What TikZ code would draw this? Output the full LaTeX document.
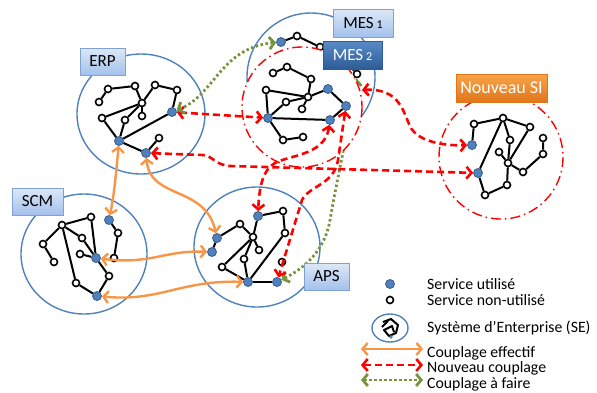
\documentclass[tikz,border=0pt]{standalone}
\usepackage{fontspec}
\setmainfont{Carlito}
\usetikzlibrary{arrows.meta}
\definecolor{blueC}{HTML}{4F81BD}
\definecolor{usedF}{HTML}{4F81BD}
\definecolor{usedB}{HTML}{385D8A}
\definecolor{orangeC}{HTML}{F79646}
\definecolor{redC}{HTML}{FF0000}
\definecolor{greenC}{HTML}{77933C}
\definecolor{lbTop}{HTML}{DDE8F7}
\definecolor{lbBot}{HTML}{A3C1EC}
\definecolor{lbDraw}{HTML}{7FA2D0}
\definecolor{dbTop}{HTML}{5A8BC8}
\definecolor{dbBot}{HTML}{2E5C96}
\definecolor{orTop}{HTML}{F9A447}
\definecolor{orBot}{HTML}{E0761A}
\begin{document}
\begin{tikzpicture}[x=1pt,y=-1pt,
  >={Straight Barb[length=5pt,width=12pt]},
  svc/.style={circle,draw=black,line width=1.6pt,fill=white,inner sep=0pt,minimum size=7pt},
  used/.style={circle,draw=usedB,line width=0.8pt,fill=usedF,inner sep=0pt,minimum size=9pt},
  ed/.style={line width=2pt,draw=black},
  syscirc/.style={draw=blueC,line width=1.4pt},
  newcirc/.style={draw=redC,line width=1.4pt,dash pattern=on 10pt off 4pt on 1.5pt off 4pt},
  eff/.style={draw=orangeC,line width=2.4pt},
  nouv/.style={draw=redC,line width=2.6pt,dash pattern=on 7pt off 4pt},
  faire/.style={draw=greenC,line width=2.8pt,dash pattern=on 2.5pt off 2.5pt},
  lbox/.style={draw=lbDraw,line width=0.8pt,top color=lbTop,bottom color=lbBot,font=\fontsize{17}{19}\selectfont,inner sep=0pt},
  dbox/.style={draw=dbBot,line width=0.8pt,top color=dbTop,bottom color=dbBot,text=white,font=\fontsize{17}{19}\selectfont,inner sep=0pt},
  obox/.style={draw=orBot,line width=0.8pt,top color=orTop,bottom color=orBot,text=white,font=\fontsize{18}{20}\selectfont,inner sep=0pt},
  legtxt/.style={anchor=west,font=\fontsize{15.8}{17}\selectfont,inner sep=0pt}
]
\useasboundingbox (0,0) rectangle (597,392);

% ---------- ERP ----------
\draw[syscirc] (141,114) ellipse[x radius=64,y radius=60];
\node[svc] (a1) at (99,102) {};
\node[svc] (a2) at (108,89) {};
\node[svc] (a3) at (135,86) {};
\node[svc] (a4) at (155,85) {};
\node[svc] (a5) at (177,90) {};
\node[svc] (a6) at (142,103) {};
\node[svc] (a7) at (102,118) {};
\node[svc] (a8) at (125,120) {};
\node[svc] (a9) at (142,116) {};
\node[svc] (a10) at (159,138) {};
\node[used] (b1) at (172,112) {};
\node[used] (b2) at (119,141) {};
\node[used] (b3) at (146,153) {};
\draw[ed] (a1)--(a2)--(a3)--(a6)--(a4)--(a5)--(b1);
\draw[ed] (a7)--(a6); \draw[ed] (a7)--(b2); \draw[ed] (a8)--(a6); \draw[ed] (a8)--(b2);
\draw[ed] (a6)--(a9); \draw[ed] (b2)--(b1); \draw[ed] (b2)--(b3)--(a10);

% ---------- SCM ----------
\draw[syscirc] (84,254) ellipse[x radius=63,y radius=60];
\node[svc] (s1) at (62,225) {};
\node[svc] (s2) at (91,217) {};
\node[svc] (s3) at (43,244) {};
\node[svc] (s4) at (54,262) {};
\node[svc] (s5) at (82,238) {};
\node[svc] (s6) at (80,254) {};
\node[svc] (s7) at (118,233) {};
\node[svc] (s8) at (114,258) {};
\node[svc] (s9) at (109,276) {};
\node[svc] (s10) at (76,283) {};
\node[used] (h1) at (109,220) {};
\node[used] (h2) at (96,258) {};
\node[used] (h3) at (97,296) {};
\draw[ed] (s4)--(s3)--(s1)--(s2)--(h2);
\draw[ed] (s1)--(s5)--(h2); \draw[ed] (s6)--(h2);
\draw[ed] (h1)--(s7)--(s8);
\draw[ed] (s1)--(s10)--(h3)--(s9)--(h2);

% ---------- APS ----------
\draw[syscirc] (257,247) ellipse[x radius=63,y radius=60];
\node[used] (k1) at (258,216) {};
\node[svc] (p1) at (283,211) {};
\node[svc] (p2) at (240,224) {};
\node[svc] (p3) at (253,237) {};
\node[svc] (p4) at (285,233) {};
\node[used] (k2) at (217,238) {};
\node[used] (k3) at (212,252) {};
\node[svc] (p5) at (259,250) {};
\node[svc] (p6) at (244,259) {};
\node[svc] (p7) at (222,267) {};
\node[svc] (p8) at (282,262) {};
\node[used] (k4) at (248,282) {};
\node[used] (k5) at (277,282) {};
\draw[ed] (k1)--(p1)--(p4)--(k4);
\draw[ed] (k1)--(p3); \draw[ed] (k3)--(k2)--(p2)--(p3)--(p5);
\draw[ed] (p3)--(p7)--(k4); \draw[ed] (p3)--(p6)--(k4); \draw[ed] (k4)--(k5);

% ---------- Nouveau SI ----------
\draw[newcirc] (501,157) circle[radius=62];
\node[svc] (n1) at (474,124) {};
\node[svc] (n2) at (503,118) {};
\node[svc] (n3) at (530,127) {};
\node[svc] (n4) at (510,140) {};
\node[svc] (n5) at (543,138) {};
\node[svc] (n6) at (543,154) {};
\node[svc] (n7) at (499,152) {};
\node[svc] (n8) at (508,163) {};
\node[svc] (n9) at (523,172) {};
\node[svc] (n10) at (507,185) {};
\node[svc] (n11) at (485,195) {};
\node[used] (g1) at (472,145) {};
\node[used] (g2) at (478,173) {};
\draw[ed] (g1)--(n1)--(n2)--(n3)--(n8);
\draw[ed] (n2)--(n4)--(n8); \draw[ed] (n7)--(n8)--(n9)--(n6)--(n5);
\draw[ed] (n8)--(n10)--(n11)--(g2)--(n2);

% ---------- MES 1 ----------
\draw[syscirc] (311,77) circle[radius=64];
\node[used] (q1) at (281,42) {};
\node[svc] (q2) at (297,36) {};
\node[svc] (q3) at (320,47) {};
\node[svc] (q5) at (342,57) {};
\node[svc] (q4) at (357,74) {};
\draw[ed] (q1)--(q2)--(q3)--(q5)--(q4);
\draw[faire,<->] (q4) .. controls (352,110) and (335,190) .. (330,220) .. controls (325,250) and (305,268) .. (k5);

% ---------- MES 2 ----------
\draw[newcirc,fill=white] (302,107) circle[radius=60];
\node[svc] (m1) at (273,73) {};
\node[svc] (m2) at (287,67) {};
\node[svc] (m3) at (311,79) {};
\node[svc] (m4) at (266,90) {};
\node[svc] (m5) at (308,97) {};
\node[svc] (m6) at (286,102) {};
\node[svc] (m7) at (302,109) {};
\node[svc] (m8) at (283,140) {};
\node[svc] (m9) at (303,137) {};
\node[used] (f1) at (328,89) {};
\node[used] (f2) at (346,106) {};
\node[used] (f3) at (268,118) {};
\node[used] (f4) at (330,120) {};
\draw[ed] (m1)--(m2)--(m3)--(m5); \draw[ed] (m4)--(m5);
\draw[ed] (m4)--(f3)--(m6)--(m5); \draw[ed] (m7)--(m5)--(f1)--(f2)--(f4)--(f3);
\draw[ed] (f3)--(m8)--(m9);

% ---------- connectors ----------
\draw[eff,<->] (b2) .. controls (116,175) and (114,195) .. (h1);
\draw[eff,<->] (b3) .. controls (150,200) and (205,185) .. (k2);
\draw[eff,<->] (h2) .. controls (150,265) and (165,250) .. (k3);
\draw[eff,<->] (h3) .. controls (160,302) and (180,280) .. (k4);

\coordinate (m2e) at (362,90);
\draw[nouv,<->] (b1) -- (f3);
\draw[nouv,<->] (b3) -- (203,155) .. controls (213,156) and (215,165) .. (230,166) -- (g2);
\draw[nouv,<->] (m2e) .. controls (400,88) and (403,112) .. (410,126) .. controls (416,140) and (440,146) .. (g1);
\draw[nouv,<->] (f4) .. controls (325,155) and (290,155) .. (275,163) .. controls (262,170) and (259,190) .. (k1);
\draw[nouv,<->] (f2) -- (338,160) .. controls (334,185) and (310,185) .. (302,200) -- (k5);
\draw[faire,<->] (b1) .. controls (215,95) and (220,48) .. (q1);

% ---------- labels ----------
\node[lbox,minimum width=45pt,minimum height=27pt] (lerp) at (102.5,61.5) {ERP};
\node[lbox,minimum width=60pt,minimum height=28pt] (lmes1) at (363,23) {MES\,{\fontsize{12}{13}\selectfont 1}};
\node[dbox,minimum width=59pt,minimum height=28pt] (lmes2) at (352.5,55) {MES\,{\fontsize{12}{13}\selectfont 2}};
\node[obox,minimum width=91pt,minimum height=28pt] (lnsi) at (501.5,88) {Nouveau SI};
\node[lbox,minimum width=51pt,minimum height=27pt] (lscm) at (37.5,201.5) {SCM};
\node[lbox,minimum width=45pt,minimum height=27pt] (laps) at (326.5,276.5) {APS};

% ---------- legend ----------
\node[used] (lu) at (390,284) {};
\node[svc] (ln) at (390,300) {};
\draw[syscirc] (390,328) ellipse[x radius=18,y radius=14];
\draw[line width=2pt,line join=round] (383,322) -- (391,319) -- (398,325) -- (396,333) -- (389,336) -- (384,330) -- (392,326) -- (394,332);
\draw[line width=2pt] (382,327) -- (388,321);
\fill[usedF] (391,337) circle[radius=1.8];
\coordinate (le1) at (361,349); \coordinate (le2) at (423,349);
\coordinate (le3) at (361,365); \coordinate (le4) at (423,365);
\coordinate (le5) at (361,380); \coordinate (le6) at (423,380);
\draw[eff,<->] (le1) -- (le2);
\draw[nouv,<->] (le3) -- (le4);
\draw[faire,<->] (le5) -- (le6);
\node[legtxt] (t1) at (427,284) {Service utilisé};
\node[legtxt] (t2) at (427,300) {Service non-utilisé};
\node[legtxt] (t3) at (427,328) {Système d’Enterprise (SE)};
\node[legtxt] (t4) at (427,353) {Couplage effectif};
\node[legtxt] (t5) at (427,368) {Nouveau couplage};
\node[legtxt] (t6) at (427,384) {Couplage à faire};
\end{tikzpicture}
\end{document}
